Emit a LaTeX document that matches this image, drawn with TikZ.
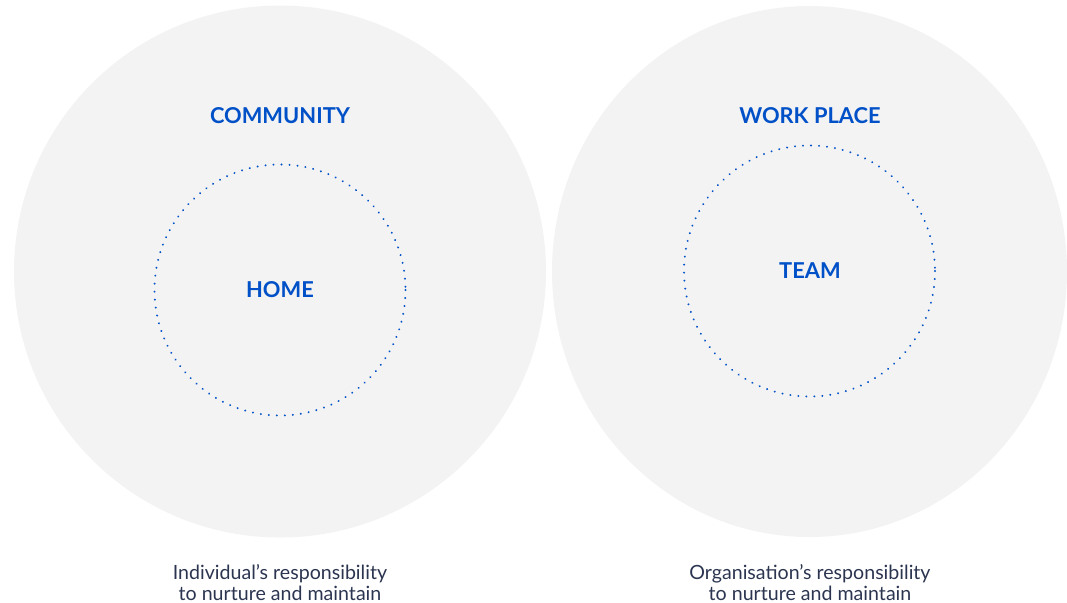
\documentclass[tikz,border=0pt]{standalone}
\usepackage{fontspec}
\setmainfont{Lato}
\usetikzlibrary{positioning}
\definecolor{mist}{HTML}{F3F3F3}
\definecolor{royal}{HTML}{0050C8}
\definecolor{slate}{HTML}{2B3550}
\tikzset{
  sphere/.style={fill=mist},
  ring/.style={draw=royal,line width=1.6pt,dash pattern=on 0.01pt off 6pt,line cap=round},
  title/.style={text=royal,inner sep=0pt,font=\fontsize{16.4}{20}\selectfont\bfseries},
  caption/.style={text=slate,inner sep=0pt,align=center,font=\fontsize{14.7}{15.75}\selectfont},
}
\begin{document}
\begin{tikzpicture}[x=0.75pt,y=-0.75pt]
  \useasboundingbox (0,0) rectangle (1067,603);
  % outer areas
  \fill[sphere] (280,271.5) circle[radius=266];
  \fill[sphere] (809.5,271.5) ellipse[x radius=257.5,y radius=265.5];
  % inner dotted rings
  \draw[ring] (280,290) circle[radius=125.5];
  \draw[ring] (809.5,271) circle[radius=125.5];
  % labels
  \node[title] (community) at (280,116) {COMMUNITY};
  \node[title] (home) at (280,290) {HOME};
  \node[title] (workplace) at (810,116) {WORK PLACE};
  \node[title] (team) at (810,271) {TEAM};
  \node[caption] (individual) at (280,583) {Individual’s responsibility\\to nurture and maintain};
  \node[caption] (organisation) at (810,583) {Organisation’s responsibility\\to nurture and maintain};
\end{tikzpicture}
\end{document}
